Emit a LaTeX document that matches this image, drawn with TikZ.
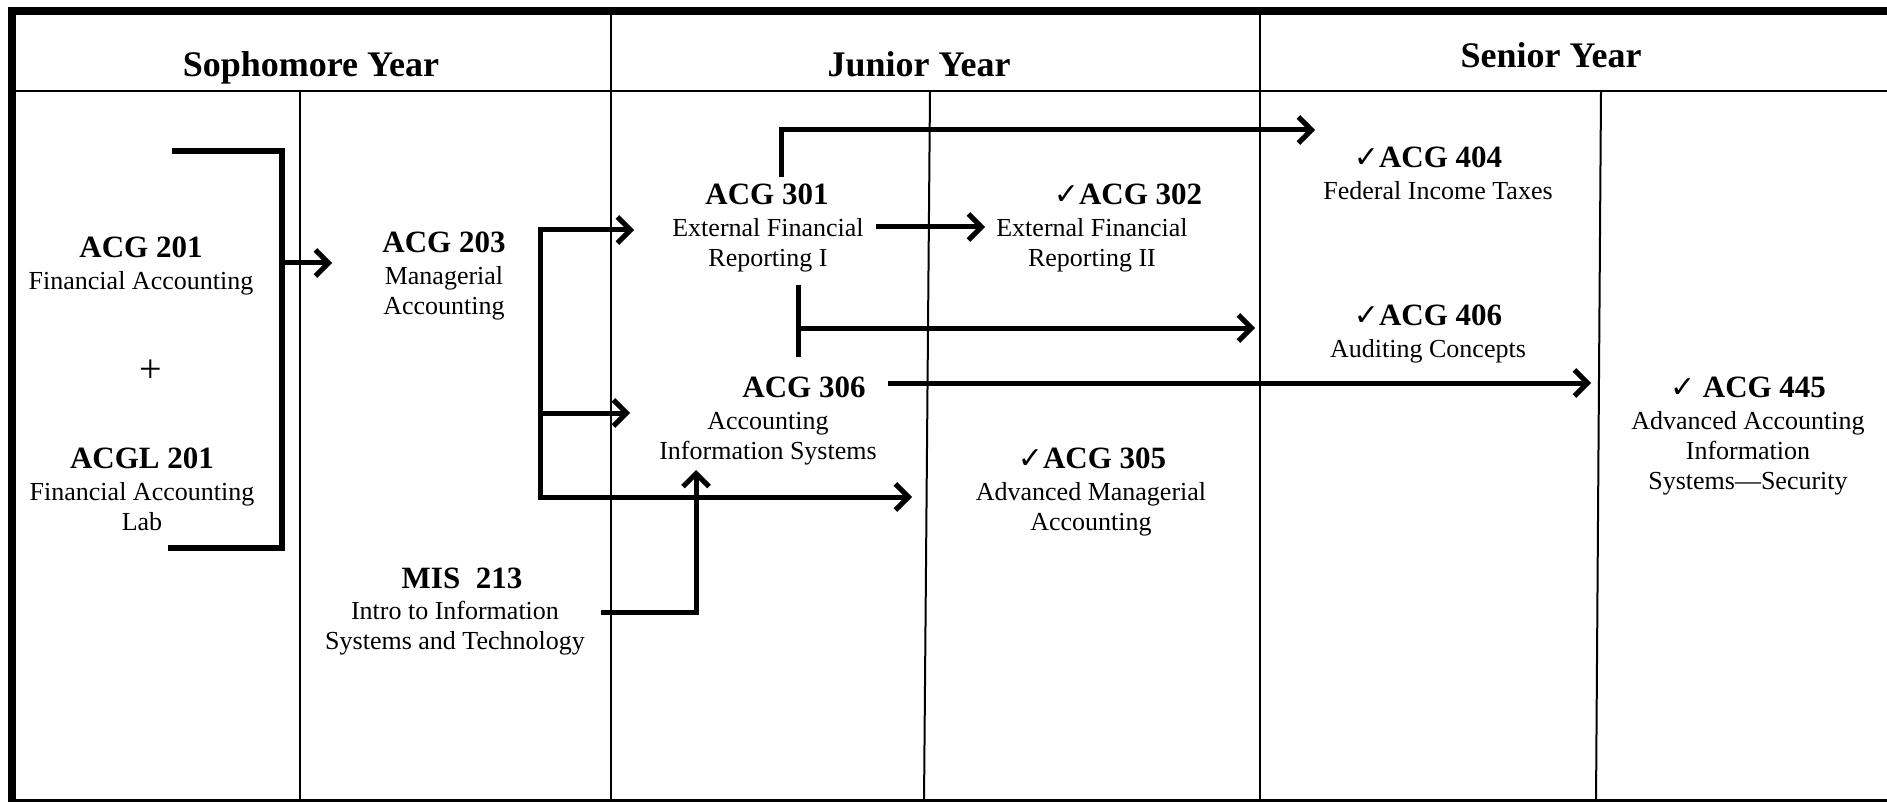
\documentclass[tikz,border=0pt]{standalone}
\usepackage{fontspec}
\setmainfont{Liberation Serif}
\newfontfamily\symfont{DejaVu Sans}
\usetikzlibrary{arrows.meta}
\newcommand\ck{{\symfont\bfseries\fontsize{30}{30}\selectfont ✓}}
\tikzset{
  hdr/.style={anchor=base, inner sep=0pt, font=\fontsize{36}{40}\selectfont\bfseries},
  crs/.style={anchor=base, inner sep=0pt, font=\fontsize{31}{34}\selectfont\bfseries},
  txt/.style={anchor=base, inner sep=0pt, align=center, font=\fontsize{26}{30}\selectfont},
  grid/.style={line width=2pt},
  link/.style={line width=5pt},
  arr/.style={link, ->}
}
\begin{document}
\begin{tikzpicture}[x=1pt, y=-1pt, >={Straight Barb[length=13pt,width=26pt]}]
  \useasboundingbox (0,0) rectangle (1887,802);
  \draw[line width=8pt] (1900,11) -- (12,11) -- (12,803) -- (1900,803);
  \draw[grid] (12,91.5) -- (1900,91.5);
  \foreach \x in {611,1259.5}
    \draw[grid] (\x,11) -- (\x,803);
  \foreach \a/\b in {300/300, 930/924, 1601/1596}
    \draw[grid] (\a,91.5) -- (\b,803);

  \node[hdr] (soph) at (311,77) {Sophomore Year};
  \node[hdr] (jun) at (919,77) {Junior Year};
  \node[hdr] (sen) at (1551,68) {Senior Year};

  \node[crs] (acg201) at (141,258) {ACG 201};
  \node[txt] (acg201t) at (141,290) {Financial Accounting};
  \node[txt, font=\fontsize{40}{40}\selectfont] (plus) at (151,382) {+};
  \node[crs] (acgl201) at (142,468) {ACGL 201};
  \node[txt] (acgl201t) at (142,530) {Financial Accounting\\Lab};
  \node[crs] (acg203) at (444,253) {ACG 203};
  \node[txt] (acg203t) at (444,314) {Managerial\\Accounting};
  \node[crs] (mis213) at (462,588) {MIS~~213};
  \node[txt] (mis213t) at (455,649) {Intro to Information\\Systems and Technology};
  \node[crs] (acg301) at (767,205) {ACG 301};
  \node[txt] (acg301t) at (768,267) {External Financial\\Reporting I};
  \node[crs] (acg302) at (1128,205) {\ck ACG 302};
  \node[txt] (acg302t) at (1092,267) {External Financial\\Reporting II};
  \node[crs] (acg306) at (804,397) {ACG 306};
  \node[txt] (acg306t) at (768,459) {Accounting\\Information Systems};
  \node[crs] (acg305) at (1092,468) {\ck ACG 305};
  \node[txt] (acg305t) at (1091,530) {Advanced Managerial\\Accounting};
  \node[crs] (acg404) at (1428,168) {\ck ACG 404};
  \node[txt] (acg404t) at (1438,200) {Federal Income Taxes};
  \node[crs] (acg406) at (1428,325) {\ck ACG 406};
  \node[txt] (acg406t) at (1428,357) {Auditing Concepts};
  \node[crs] (acg445) at (1748,397) {\ck\ ACG 445};
  \node[txt] (acg445t) at (1748,489) {Advanced Accounting\\Information\\Systems—Security};

  \coordinate (b1) at (172,151);
  \coordinate (b2) at (282,548);
  \coordinate (b3) at (168,548);
  \coordinate (f201) at (279,263);
  \coordinate (t203) at (332,263);
  \coordinate (t301) at (634,230);
  \coordinate (s203) at (540,497);
  \coordinate (m203) at (540,413);
  \coordinate (t306) at (630,413);
  \coordinate (t305) at (912,497);
  \coordinate (f213) at (601,612);
  \coordinate (u306) at (696,470);
  \coordinate (f301) at (876,227);
  \coordinate (t302) at (985,227);
  \coordinate (u301) at (781,177);
  \coordinate (t404) at (1315,130);
  \coordinate (v1) at (798,285);
  \coordinate (v2) at (798,357);
  \coordinate (v3) at (798,328);
  \coordinate (t406) at (1255,328);
  \coordinate (f306) at (888,383);
  \coordinate (t445) at (1591,383);

  \draw[line width=6pt] (b1) -| (b2) -- (b3);
  \draw[arr] (f201) -- (t203);
  \draw[link, <->] (t301) -| (s203) -- (t305);
  \draw[arr] (m203) -- (t306);
  \draw[arr] (f213) -| (u306);
  \draw[arr] (f301) -- (t302);
  \draw[arr] (u301) |- (t404);
  \draw[link] (v1) -- (v2);
  \draw[arr] (v3) -- (t406);
  \draw[arr] (f306) -- (t445);
\end{tikzpicture}
\end{document}
